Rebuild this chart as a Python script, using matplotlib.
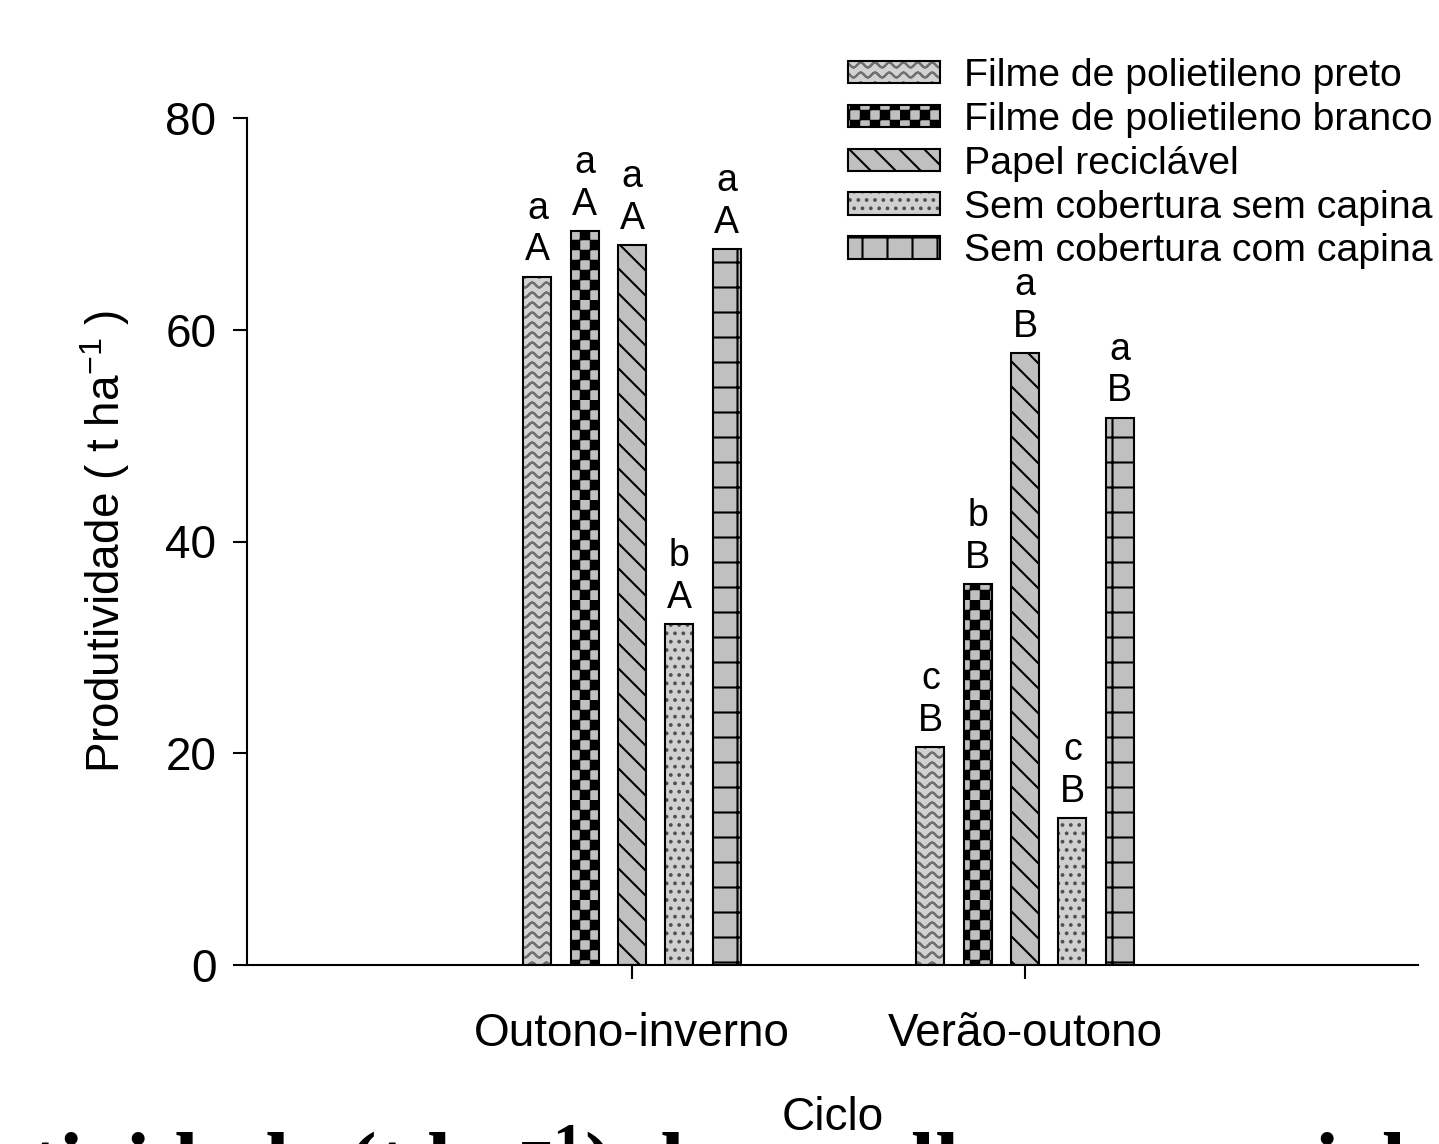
import warnings
import numpy as np
import matplotlib
matplotlib.use('Agg')
import matplotlib.pyplot as plt
import matplotlib.hatch as mhatch
from matplotlib.path import Path
from matplotlib.colors import to_rgba

warnings.filterwarnings('ignore')

# data
ciclos = ['Outono-inverno', 'Verão-outono']
tratamentos = ['Filme de polietileno preto', 'Filme de polietileno branco',
               'Papel reciclável', 'Sem cobertura sem capina',
               'Sem cobertura com capina']
prod_oi = [65.0, 69.3, 68.0, 32.2, 67.6]
prod_vo = [20.6, 36.0, 57.8, 13.9, 51.7]
letras_oi = ['a\nA', 'a\nA', 'a\nA', 'b\nA', 'a\nA']
letras_vo = ['c\nB', 'b\nB', 'a\nB', 'c\nB', 'a\nB']


# custom hatches (wave, checker, wide back-diagonal, wide grid)
class CustomHatch(mhatch.HatchPatternBase):
    char = ''

    def __init__(self, hatch, density):
        self.lines = self.build() if (hatch and self.char in hatch) else []
        self.num_vertices = sum(len(l) for l in self.lines)
        self.filled = False

    def build(self):
        return []

    def set_vertices_and_codes(self, vertices, codes):
        k = 0
        for l in self.lines:
            m = len(l)
            vertices[k:k + m] = l
            codes[k] = Path.MOVETO
            codes[k + 1:k + m] = Path.LINETO
            k += m


class WaveHatch(CustomHatch):
    char = '~'

    def build(self):
        t = np.linspace(-0.05, 1.05, 80)
        out = []
        for i in range(10):
            y = (i + 0.5) / 10 + 0.025 * np.sin(2 * np.pi * 7 * t)
            pts = np.column_stack([t, y])
            out.append(np.vstack([pts, pts[::-1]]))
        return out


class CheckerHatch(CustomHatch):
    char = '#'

    def build(self):
        n = 10
        s = 1.0 / n
        d = 0.008
        out = []
        for i in range(n):
            for j in range(n):
                if (i + j) % 2 == 0:
                    x, y = i * s + d, j * s + d
                    w = s - 2 * d
                    out.append(np.array([[x, y], [x + w, y], [x + w, y + w],
                                         [x, y + w], [x, y]]))
        return out


class DiagHatch(CustomHatch):
    char = 'z'

    def build(self):
        n = 4
        return [np.array([[k / n, 1.0], [k / n + 1.0, 0.0]])
                for k in range(-n - 1, n + 2)]


class GridHatch(CustomHatch):
    char = 'g'

    def build(self):
        n = 4
        out = []
        for k in range(n):
            c = (k + 0.5) / n
            out.append(np.array([[-0.1, c], [1.1, c]]))
            out.append(np.array([[c, -0.1], [c, 1.1]]))
        return out


mhatch._hatch_types.extend([WaveHatch, CheckerHatch, DiagHatch, GridHatch])

plt.rcParams['font.family'] = ['Liberation Sans', 'DejaVu Sans']
plt.rcParams['mathtext.default'] = 'regular'
plt.rcParams['hatch.linewidth'] = 1.5

hatches = ['~', '#', 'z', '..', 'g']
faces = ['#d2d2d2', '#c0c0c0', '#c0c0c0', '#d0d0d0', '#c0c0c0']
hatch_cols = ['#707070', 'black', 'black', '#505050', 'black']

fig = plt.figure(figsize=(14.39, 11.44), dpi=100)
ax = fig.add_axes([247 / 1439, 1 - 965 / 1144, (1418 - 247) / 1439, (965 - 118) / 1144])

x = np.array([1, 2])
step = 0.1205
width = 0.0712
for i in range(len(tratamentos)):
    vals = [prod_oi[i], prod_vo[i]]
    bars = ax.bar(x + (i - 2) * step, vals, width, color=faces[i], edgecolor='black',
                  linewidth=1.5, hatch=hatches[i], label=tratamentos[i])
    for p in bars:
        p._hatch_color = to_rgba(hatch_cols[i])
    for xi, v, lab in zip(x + (i - 2) * step, vals, [letras_oi[i], letras_vo[i]]):
        ax.annotate(lab, (xi, v), xytext=(0, 6), textcoords='offset points',
                    ha='center', va='bottom', fontsize=27)

ax.set_xlim(0.02, 3.0)
ax.set_ylim(0, 80)
ax.set_yticks([0, 20, 40, 60, 80])
ax.set_xticks(x)
ax.set_xticklabels(ciclos)
for s in ['top', 'right']:
    ax.spines[s].set_visible(False)
for s in ['left', 'bottom']:
    ax.spines[s].set_linewidth(1.5)
ax.tick_params(axis='y', labelsize=33, length=10, width=1.5, pad=12)
ax.tick_params(axis='x', labelsize=33, length=10, width=1.5, pad=24)
ax.set_ylabel('Produtividade ( t ha$^{-1}$ )', fontsize=33, labelpad=24)
ax.set_xlabel('Ciclo', fontsize=33, labelpad=29)

ax.legend(loc='upper left', bbox_to_anchor=(848 / 1439, 1 - 58 / 1144),
          bbox_transform=fig.transFigure, frameon=False, fontsize=28.3,
          handlelength=2.35, handleheight=0.5, handletextpad=0.6,
          labelspacing=0.2, borderpad=0, borderaxespad=0)

# cropped caption at the bottom of the original figure
fig.text(-200 / 1439, -0.043, 'Produtividade (t ha$^{-1}$) de repolho comercial',
         fontsize=62, family='Liberation Serif', weight='bold', va='baseline')

fig.savefig('out.png', dpi=100)
